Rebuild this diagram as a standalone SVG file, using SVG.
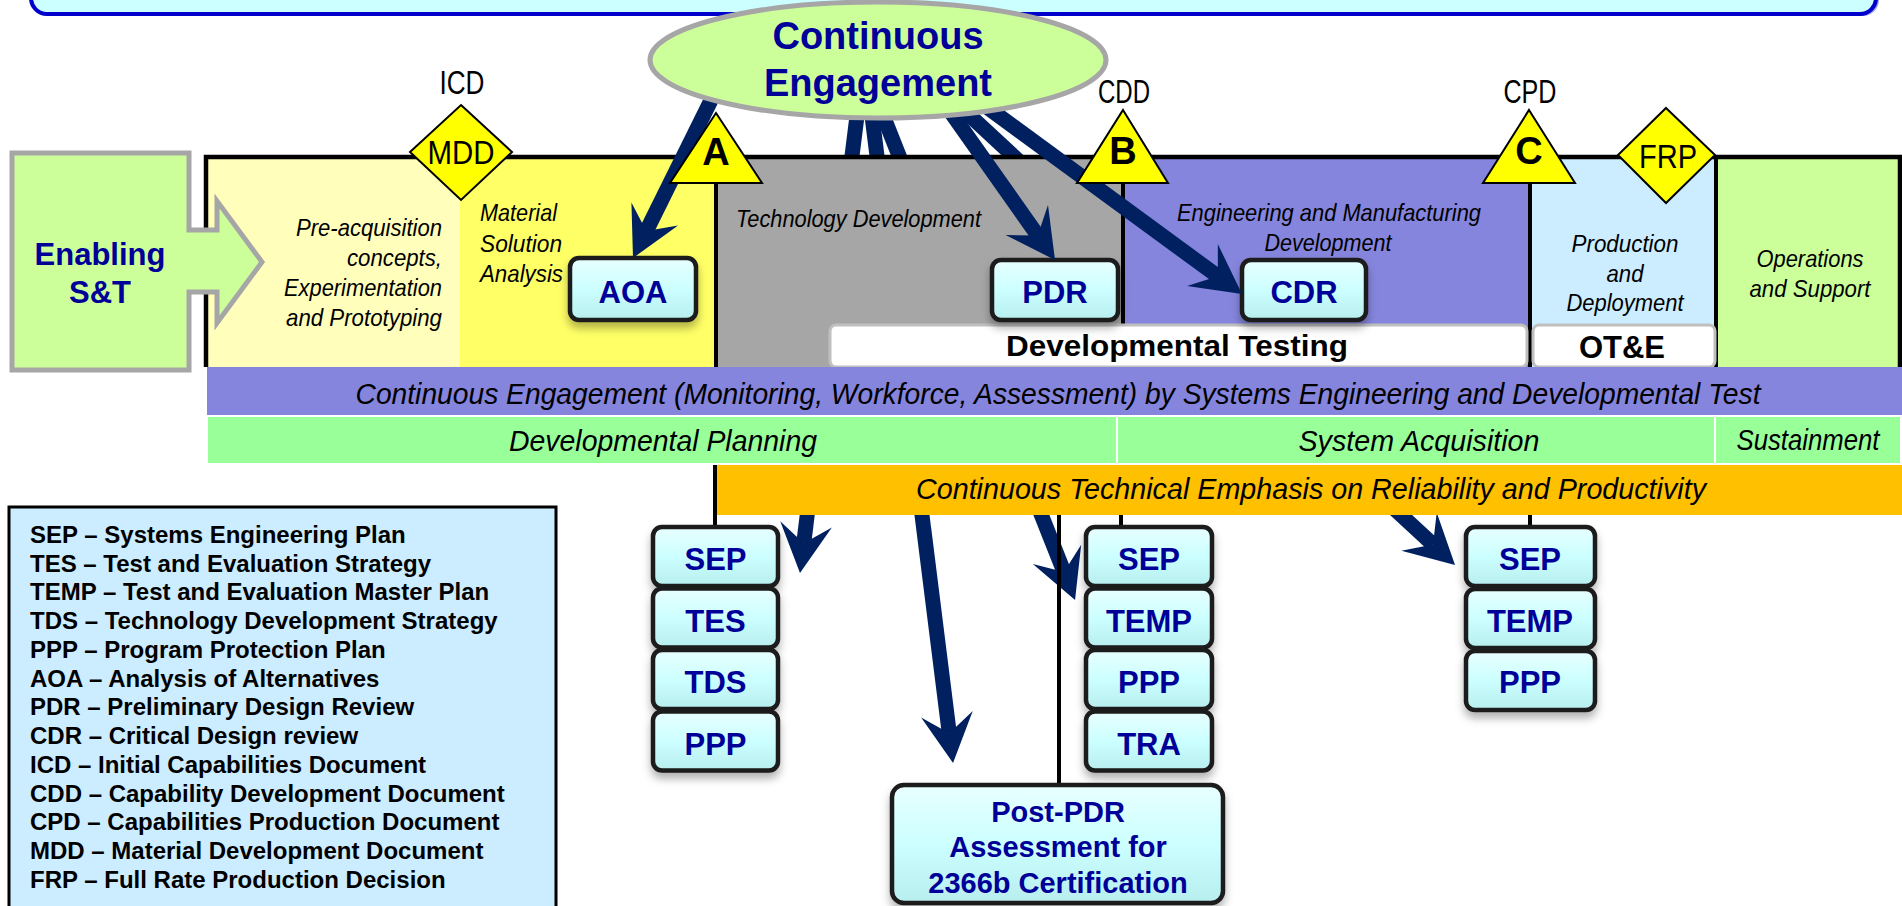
<svg xmlns="http://www.w3.org/2000/svg" width="1902" height="906" viewBox="0 0 1902 906">
<defs>
<style>
.nar{font-family:"Liberation Sans Narrow","Arial Narrow","Liberation Sans",Arial,sans-serif;fill:#000}
.it{font-style:italic;font-size:24px}
.band{font-style:italic;font-size:30px}
.ms{font-size:33px;text-anchor:middle}
.mid{text-anchor:middle}
.lbl{font-family:"Liberation Sans",Arial,sans-serif;font-weight:bold;fill:#000099;font-size:31px;text-anchor:middle}
.tri{font-family:"Liberation Sans",Arial,sans-serif;font-weight:bold;fill:#000;font-size:38px;text-anchor:middle}
.leg{font-family:"Liberation Sans",Arial,sans-serif;font-weight:bold;fill:#000;font-size:24px}
.doc{fill:url(#bg);stroke:#1a1a1a;stroke-width:4.5;filter:url(#sh)}
.arr{stroke:#002060;stroke-width:15;fill:none;marker-end:url(#ah)}
.vl{stroke:#000;stroke-width:4}
.ms-shape{fill:#FFFF00;stroke:#000;stroke-width:2}
</style>
<linearGradient id="bg" x1="0" y1="0" x2="0" y2="1">
<stop offset="0" stop-color="#E8FFFF"/>
<stop offset="0.5" stop-color="#CCFFFF"/>
<stop offset="1" stop-color="#B8EEEE"/>
</linearGradient>
<filter id="sh" x="-20%" y="-20%" width="140%" height="170%">
<feDropShadow dx="0" dy="6" stdDeviation="4" flood-color="#000" flood-opacity="0.3"/>
</filter>
<marker id="ah" markerUnits="userSpaceOnUse" markerWidth="90" markerHeight="90" refX="0" refY="0" orient="auto" overflow="visible" viewBox="-45 -45 90 90">
<path d="M30 0 L-19 -26 L0 0 L-19 26 Z" fill="#002060"/>
</marker>
</defs>

<g id="title-banner">
<rect x="34" y="-48" width="1845" height="64" rx="16" fill="#A8A8E8"/>
<rect x="31" y="-50" width="1845" height="64" rx="16" fill="#CCFFFF" stroke="#0000CC" stroke-width="4"/>
</g>

<g id="connectors-hidden">
<line class="arr" x1="859" y1="100" x2="803.7" y2="543.2"/>
<line class="arr" x1="870" y1="100" x2="949.3" y2="733.2"/>
<line class="arr" x1="877" y1="100" x2="1064" y2="572.1"/>
<line class="arr" x1="953" y1="100" x2="1433" y2="544.6"/>
</g>

<g id="phase-box">
<rect x="206" y="157" width="254" height="210" fill="#FFFFBB"/>
<rect x="460" y="157" width="256" height="210" fill="#FFFF66"/>
<rect x="716" y="157" width="407" height="210" fill="#A6A6A6"/>
<rect x="1123" y="157" width="407" height="210" fill="#8585DD"/>
<rect x="1530" y="157" width="185" height="210" fill="#CCECFF"/>
<rect x="1715" y="157" width="185" height="210" fill="#CCFF99"/>
<line class="vl" x1="716" y1="157" x2="716" y2="367"/>
<line class="vl" x1="1123" y1="157" x2="1123" y2="367"/>
<line class="vl" x1="1530" y1="157" x2="1530" y2="367"/>
<line class="vl" x1="1716" y1="157" x2="1716" y2="367" stroke-width="5"/>
<path d="M206 367 V157 H1900 V367" fill="none" stroke="#000" stroke-width="4.5"/>
</g>

<g id="enabling-st">
<path d="M12 153 H189 V230 H217 V201 L262 262 L217 323 V292 H189 V370 H12 Z" fill="#CCFF99" stroke="#A6A6A6" stroke-width="5" stroke-linejoin="miter"/>
<text class="lbl" x="100" y="265">Enabling</text>
<text class="lbl" x="100" y="303">S&amp;T</text>
</g>

<g id="phase-labels">
<text class="nar it" text-anchor="end" x="442" y="236" textLength="146" lengthAdjust="spacingAndGlyphs">Pre-acquisition</text>
<text class="nar it" text-anchor="end" x="442" y="266" textLength="95" lengthAdjust="spacingAndGlyphs">concepts,</text>
<text class="nar it" text-anchor="end" x="442" y="296" textLength="158" lengthAdjust="spacingAndGlyphs">Experimentation</text>
<text class="nar it" text-anchor="end" x="442" y="326" textLength="156" lengthAdjust="spacingAndGlyphs">and Prototyping</text>
<text class="nar it" x="480" y="221" textLength="77" lengthAdjust="spacingAndGlyphs">Material</text>
<text class="nar it" x="480" y="252" textLength="82" lengthAdjust="spacingAndGlyphs">Solution</text>
<text class="nar it" x="480" y="282" textLength="83" lengthAdjust="spacingAndGlyphs">Analysis</text>
<text class="nar it" x="736" y="227" textLength="245" lengthAdjust="spacingAndGlyphs">Technology Development</text>
<text class="nar it mid" x="1329" y="221" textLength="304" lengthAdjust="spacingAndGlyphs">Engineering and Manufacturing</text>
<text class="nar it mid" x="1328" y="251" textLength="127" lengthAdjust="spacingAndGlyphs">Development</text>
<text class="nar it mid" x="1625" y="252" textLength="107" lengthAdjust="spacingAndGlyphs">Production</text>
<text class="nar it mid" x="1625" y="282" textLength="37" lengthAdjust="spacingAndGlyphs">and</text>
<text class="nar it mid" x="1625" y="311" textLength="117" lengthAdjust="spacingAndGlyphs">Deployment</text>
<text class="nar it mid" x="1810" y="267" textLength="107" lengthAdjust="spacingAndGlyphs">Operations</text>
<text class="nar it mid" x="1810" y="297" textLength="121" lengthAdjust="spacingAndGlyphs">and Support</text>
</g>

<g id="dev-testing">
<rect x="830" y="325" width="697" height="42" rx="6" fill="#FFF" stroke="#BFBFBF" stroke-width="3"/>
<text class="leg mid" x="1177" y="356" textLength="342" lengthAdjust="spacingAndGlyphs" style="font-size:29px">Developmental Testing</text>
</g>
<g id="ote">
<rect x="1533" y="325" width="182" height="42" rx="6" fill="#FFF" stroke="#BFBFBF" stroke-width="3"/>
<text class="leg mid" x="1622" y="358" style="font-size:31px">OT&amp;E</text>
</g>

<g id="band-engagement">
<rect x="207" y="367" width="1695" height="48" fill="#8585DD"/>
<text class="nar band mid" x="1058" y="404" textLength="1405" lengthAdjust="spacingAndGlyphs">Continuous Engagement (Monitoring, Workforce, Assessment) by Systems Engineering and Developmental Test</text>
</g>
<g id="band-phases">
<rect x="207" y="416" width="910" height="48" fill="#99FF99" stroke="#FFF" stroke-width="2"/>
<rect x="1117" y="416" width="598" height="48" fill="#99FF99" stroke="#FFF" stroke-width="2"/>
<rect x="1715" y="416" width="186" height="48" fill="#99FF99" stroke="#FFF" stroke-width="2"/>
<text class="nar band mid" x="663" y="451" textLength="308" lengthAdjust="spacingAndGlyphs">Developmental Planning</text>
<text class="nar band mid" x="1419" y="451" textLength="241" lengthAdjust="spacingAndGlyphs">System Acquisition</text>
<text class="nar band mid" x="1808" y="450" textLength="143" lengthAdjust="spacingAndGlyphs">Sustainment</text>
</g>
<g id="band-technical">
<rect x="713" y="465" width="1189" height="50" fill="#FFC000"/>
<text class="nar band mid" x="1311" y="499" textLength="790" lengthAdjust="spacingAndGlyphs">Continuous Technical Emphasis on Reliability and Productivity</text>
</g>

<g id="connector-lines">
<line class="vl" x1="715" y1="465" x2="715" y2="528"/>
<line class="vl" x1="1121" y1="515" x2="1121" y2="528"/>
<line class="vl" x1="1530" y1="515" x2="1530" y2="528"/>
<line class="vl" x1="1059" y1="515" x2="1059" y2="786"/>
</g>

<g id="col-a-docs">
<g id="doc-a-sep"><rect class="doc" x="653" y="527" width="125" height="59" rx="9"/><text class="lbl" x="715.5" y="570">SEP</text></g>
<g id="doc-a-tes"><rect class="doc" x="653" y="588.5" width="125" height="59" rx="9"/><text class="lbl" x="715.5" y="632">TES</text></g>
<g id="doc-a-tds"><rect class="doc" x="653" y="650" width="125" height="59" rx="9"/><text class="lbl" x="715.5" y="693">TDS</text></g>
<g id="doc-a-ppp"><rect class="doc" x="653" y="711.5" width="125" height="59" rx="9"/><text class="lbl" x="715.5" y="755">PPP</text></g>
</g>
<g id="col-b-docs">
<g id="doc-b-sep"><rect class="doc" x="1086" y="527" width="126" height="59" rx="9"/><text class="lbl" x="1149" y="570">SEP</text></g>
<g id="doc-b-temp"><rect class="doc" x="1086" y="588.5" width="126" height="59" rx="9"/><text class="lbl" x="1149" y="632">TEMP</text></g>
<g id="doc-b-ppp"><rect class="doc" x="1086" y="650" width="126" height="59" rx="9"/><text class="lbl" x="1149" y="693">PPP</text></g>
<g id="doc-b-tra"><rect class="doc" x="1086" y="711.5" width="126" height="59" rx="9"/><text class="lbl" x="1149" y="755">TRA</text></g>
</g>
<g id="col-c-docs">
<g id="doc-c-sep"><rect class="doc" x="1466" y="527" width="129" height="59" rx="9"/><text class="lbl" x="1530" y="570">SEP</text></g>
<g id="doc-c-temp"><rect class="doc" x="1466" y="589" width="129" height="59" rx="9"/><text class="lbl" x="1530" y="632">TEMP</text></g>
<g id="doc-c-ppp"><rect class="doc" x="1466" y="651" width="129" height="59" rx="9"/><text class="lbl" x="1530" y="693">PPP</text></g>
</g>
<g id="post-pdr">
<rect class="doc" x="892" y="785" width="331" height="118" rx="12"/>
<text class="lbl" x="1058" y="822" style="font-size:29px">Post-PDR</text>
<text class="lbl" x="1058" y="857" style="font-size:29px">Assessment for</text>
<text class="lbl" x="1058" y="893" style="font-size:29px">2366b Certification</text>
</g>

<g id="reviews">
<g id="aoa"><rect class="doc" x="570" y="258" width="126" height="62" rx="9"/><text class="lbl" x="633" y="303">AOA</text></g>
<g id="pdr"><rect class="doc" x="992" y="260" width="126" height="60" rx="9"/><text class="lbl" x="1055" y="303">PDR</text></g>
<g id="cdr"><rect class="doc" x="1242" y="260" width="124" height="60" rx="9"/><text class="lbl" x="1304" y="303">CDR</text></g>
</g>

<g id="connectors">
<line class="arr" x1="726" y1="70" x2="646.3" y2="231.1"/>
<line class="arr" x1="928" y1="80" x2="1037.7" y2="235.5"/>
<line class="arr" x1="950" y1="80" x2="1217.8" y2="276.3"/>
</g>

<g id="milestones">
<g id="mdd"><path class="ms-shape" d="M461 105 L512 152 L461 200 L410 152 Z"/><text class="nar ms" x="461" y="164" textLength="67" lengthAdjust="spacingAndGlyphs">MDD</text></g>
<g id="ms-a"><path class="ms-shape" d="M716 113 L762 183 L670 183 Z"/><text class="tri" x="716" y="165">A</text></g>
<g id="ms-b"><path class="ms-shape" d="M1123 110 L1168 183 L1077 183 Z"/><text class="tri" x="1123" y="164">B</text></g>
<g id="ms-c"><path class="ms-shape" d="M1529 110 L1575 183 L1483 183 Z"/><text class="tri" x="1529" y="164">C</text></g>
<g id="frp"><path class="ms-shape" d="M1666 108 L1715 155 L1666 203 L1618 155 Z"/><text class="nar ms" x="1668" y="168" textLength="58" lengthAdjust="spacingAndGlyphs">FRP</text></g>
<text class="nar ms" x="462" y="94" textLength="45" lengthAdjust="spacingAndGlyphs">ICD</text>
<text class="nar ms" x="1124" y="103" textLength="52" lengthAdjust="spacingAndGlyphs">CDD</text>
<text class="nar ms" x="1530" y="103" textLength="53" lengthAdjust="spacingAndGlyphs">CPD</text>
</g>

<g id="continuous-engagement">
<ellipse cx="878" cy="60" rx="228" ry="58" fill="#CCFF99" stroke="#A6A6A6" stroke-width="5"/>
<text class="lbl" x="878" y="49" style="font-size:38px">Continuous</text>
<text class="lbl" x="878" y="96" style="font-size:38px">Engagement</text>
</g>

<g id="legend">
<rect x="9" y="507" width="547" height="410" fill="#CCECFF" stroke="#000" stroke-width="3"/>
<text class="leg" x="30" y="542.7">SEP – Systems Engineering Plan</text>
<text class="leg" x="30" y="571.5">TES – Test and Evaluation Strategy</text>
<text class="leg" x="30" y="600.2">TEMP – Test and Evaluation Master Plan</text>
<text class="leg" x="30" y="629">TDS – Technology Development Strategy</text>
<text class="leg" x="30" y="657.7">PPP – Program Protection Plan</text>
<text class="leg" x="30" y="686.5">AOA – Analysis of Alternatives</text>
<text class="leg" x="30" y="715.2">PDR – Preliminary Design Review</text>
<text class="leg" x="30" y="744">CDR – Critical Design review</text>
<text class="leg" x="30" y="772.7">ICD – Initial Capabilities Document</text>
<text class="leg" x="30" y="801.5">CDD – Capability Development Document</text>
<text class="leg" x="30" y="830.2">CPD – Capabilities Production Document</text>
<text class="leg" x="30" y="859">MDD – Material Development Document</text>
<text class="leg" x="30" y="887.7">FRP – Full Rate Production Decision</text>
</g>
</svg>
